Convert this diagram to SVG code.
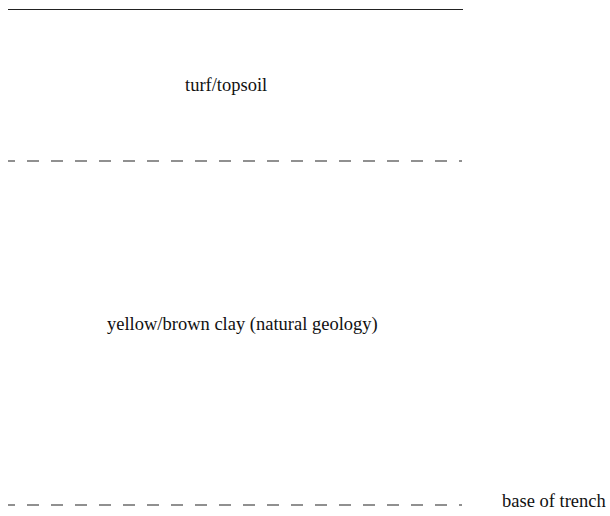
<svg xmlns="http://www.w3.org/2000/svg" width="610" height="516" viewBox="0 0 610 516">
<style>
.ln{stroke:#222;stroke-width:1.2;fill:none}
.dash{stroke-dasharray:12 12;stroke-dashoffset:5}
text{font-family:"Liberation Serif","Times New Roman",serif;font-size:18.5px;fill:#111}
</style>
<rect width="610" height="516" fill="#fff"/>
<g id="connectors">
<line class="ln" x1="8" y1="9.5" x2="463" y2="9.5"/>
<line class="ln dash" x1="8" y1="161" x2="462" y2="161"/>
<line class="ln dash" x1="8" y1="505" x2="462" y2="505"/>
</g>
<g id="turf"><text x="185" y="91">turf/topsoil</text></g>
<g id="clay"><text x="107" y="330">yellow/brown clay (natural geology)</text></g>
<g id="base"><text x="502" y="507">base of trench</text></g>
</svg>
